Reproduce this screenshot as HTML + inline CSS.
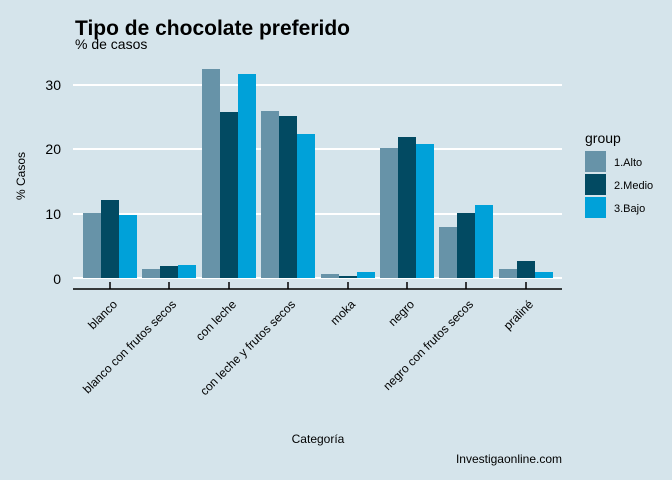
<!DOCTYPE html>
<html><head><meta charset="utf-8"><style>body{margin:0;background:#d5e4eb}svg{display:block}</style></head>
<body>
<svg width="672" height="480" xmlns="http://www.w3.org/2000/svg" font-family="Liberation Sans, sans-serif">
<rect width="672" height="480" fill="#d5e4eb"/>
<text x="75" y="35" font-size="21" font-weight="bold">Tipo de chocolate preferido</text>
<text x="75" y="49" font-size="14">% de casos</text>
<g stroke="#fff" stroke-width="2">
<line x1="73" x2="562" y1="85" y2="85"/><line x1="73" x2="562" y1="149" y2="149"/>
<line x1="73" x2="562" y1="214" y2="214"/><line x1="73" x2="562" y1="278" y2="278"/>
</g>
<g font-size="14" text-anchor="end">
<text x="61" y="90">30</text><text x="61" y="154">20</text><text x="61" y="219">10</text><text x="61" y="284">0</text>
</g>
<text transform="translate(25,176) rotate(-90)" font-size="12" text-anchor="middle">% Casos</text>
<line x1="73" x2="562" y1="289" y2="289" stroke="#000" stroke-width="1.5"/>
<g stroke="#000" stroke-width="1.5">
<line x1="110" x2="110" y1="282" y2="289"/><line x1="169" x2="169" y1="282" y2="289"/>
<line x1="229" x2="229" y1="282" y2="289"/><line x1="288" x2="288" y1="282" y2="289"/>
<line x1="348" x2="348" y1="282" y2="289"/><line x1="407" x2="407" y1="282" y2="289"/>
<line x1="466" x2="466" y1="282" y2="289"/><line x1="526" x2="526" y1="282" y2="289"/>
</g>
<g font-size="12" text-anchor="end">
<text transform="translate(118,305) rotate(-45)">blanco</text>
<text transform="translate(177,305) rotate(-45)">blanco con frutos secos</text>
<text transform="translate(237,305) rotate(-45)">con leche</text>
<text transform="translate(296,305) rotate(-45)">con leche y frutos secos</text>
<text transform="translate(356,305) rotate(-45)">moka</text>
<text transform="translate(415,305) rotate(-45)">negro</text>
<text transform="translate(474,305) rotate(-45)">negro con frutos secos</text>
<text transform="translate(534,305) rotate(-45)">praliné</text>
</g>
<text x="318" y="443" font-size="12" text-anchor="middle">Categoría</text>
<text x="562" y="463" font-size="12" text-anchor="end">Investigaonline.com</text>
<text x="585" y="143" font-size="14">group</text>
<rect x="585" y="151" width="21" height="21" fill="#6793a8"/>
<rect x="585" y="174" width="21" height="21" fill="#024a62"/>
<rect x="585" y="197" width="21" height="21" fill="#00a1d9"/>
<g font-size="11"><text x="614" y="166">1.Alto</text><text x="614" y="189">2.Medio</text><text x="614" y="212">3.Bajo</text></g>
<g>
<rect x="83" y="213" width="18" height="65" fill="#6793a8"/><rect x="101" y="200" width="18" height="78" fill="#024a62"/><rect x="119" y="215" width="18" height="63" fill="#00a1d9"/>
<rect x="142" y="269" width="18" height="9" fill="#6793a8"/><rect x="160" y="266" width="18" height="12" fill="#024a62"/><rect x="178" y="265" width="18" height="13" fill="#00a1d9"/>
<rect x="202" y="69" width="18" height="209" fill="#6793a8"/><rect x="220" y="112" width="18" height="166" fill="#024a62"/><rect x="238" y="74" width="18" height="204" fill="#00a1d9"/>
<rect x="261" y="111" width="18" height="167" fill="#6793a8"/><rect x="279" y="116" width="18" height="162" fill="#024a62"/><rect x="297" y="134" width="18" height="144" fill="#00a1d9"/>
<rect x="321" y="274" width="18" height="4" fill="#6793a8"/><rect x="339" y="276" width="18" height="2" fill="#024a62"/><rect x="357" y="272" width="18" height="6" fill="#00a1d9"/>
<rect x="380" y="148" width="18" height="130" fill="#6793a8"/><rect x="398" y="137" width="18" height="141" fill="#024a62"/><rect x="416" y="144" width="18" height="134" fill="#00a1d9"/>
<rect x="439" y="227" width="18" height="51" fill="#6793a8"/><rect x="457" y="213" width="18" height="65" fill="#024a62"/><rect x="475" y="205" width="18" height="73" fill="#00a1d9"/>
<rect x="499" y="269" width="18" height="9" fill="#6793a8"/><rect x="517" y="261" width="18" height="17" fill="#024a62"/><rect x="535" y="272" width="18" height="6" fill="#00a1d9"/>
</g>
</svg>
</body></html>
